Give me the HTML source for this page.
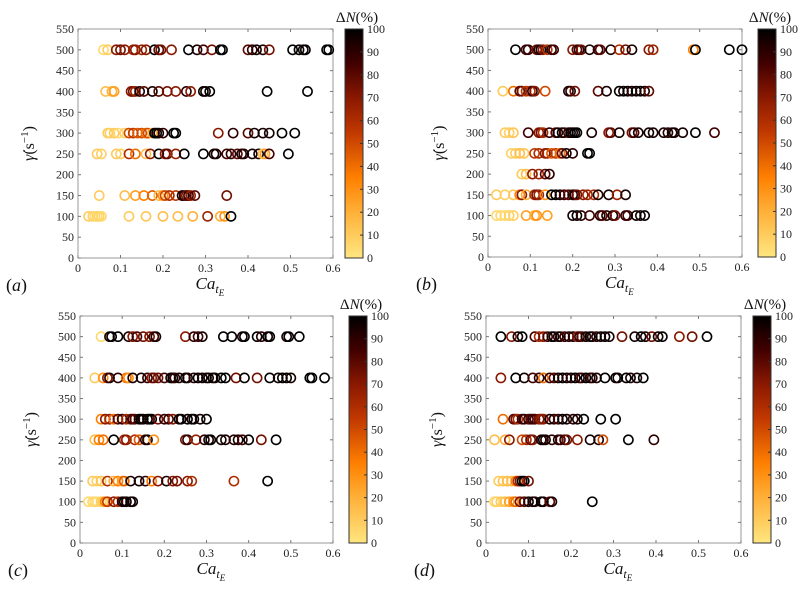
<!DOCTYPE html>
<html><head><meta charset="utf-8"><style>
html,body{margin:0;padding:0;background:#fff;}
svg, svg text{font-family:"Liberation Serif","DejaVu Serif","Times New Roman",serif;}
</style></head><body>
<svg id="fig" width="800" height="585" viewBox="0 0 800 585" xmlns="http://www.w3.org/2000/svg" font-family="Liberation Serif, DejaVu Serif, serif">
<defs>
<linearGradient id="cmap" x1="0" y1="1" x2="0" y2="0">
<stop offset="0" stop-color="#ffe680"/><stop offset="0.2" stop-color="#ffb038"/><stop offset="0.35" stop-color="#ff8000"/>
<stop offset="0.55" stop-color="#c03800"/><stop offset="0.7" stop-color="#8a1800"/><stop offset="0.85" stop-color="#420000"/><stop offset="1" stop-color="#000"/>
</linearGradient>
</defs>
</svg>
<script>
const xTicks=[0,0.1,0.2,0.3,0.4,0.5,0.6];
const yTicks=[0,50,100,150,200,250,300,350,400,450,500,550];
const cTicks=[0,10,20,30,40,50,60,70,80,90,100];
// Panel (a)
const aY=[500,500,500,500,500,500,500,500,500,500,500,500,500,500,500,500,500,500,500,500,500,500,500,500,500,500,500,500,500,500,
400,400,400,400,400,400,400,400,400,400,400,400,400,400,400,400,400,400,400,
300,300,300,300,300,300,300,300,300,300,300,300,300,300,300,300,300,300,300,300,300,300,300,300,300,300,
250,250,250,250,250,250,250,250,250,250,250,250,250,250,250,250,250,250,250,250,250,250,250,250,250,250,250,
150,150,150,150,150,150,150,150,150,150,150,150,150,150,150,150,150,
100,100,100,100,100,100,100,100,100,100,100,100,100,100,100];
const aX=[0.06,0.07,0.09,0.10,0.11,0.13,0.135,0.15,0.16,0.18,0.19,0.195,0.22,0.26,0.28,0.295,0.315,0.335,0.34,0.40,0.41,0.42,0.435,0.45,0.505,0.52,0.53,0.535,0.585,0.59,
0.065,0.08,0.085,0.125,0.13,0.135,0.145,0.155,0.175,0.19,0.21,0.23,0.255,0.265,0.295,0.30,0.31,0.445,0.54,
0.07,0.075,0.085,0.095,0.11,0.12,0.13,0.14,0.15,0.16,0.165,0.175,0.18,0.185,0.19,0.20,0.225,0.23,0.33,0.365,0.40,0.415,0.435,0.45,0.48,0.51,
0.045,0.055,0.09,0.10,0.12,0.135,0.16,0.17,0.19,0.205,0.21,0.23,0.25,0.295,0.32,0.325,0.35,0.36,0.375,0.385,0.39,0.41,0.425,0.435,0.44,0.45,0.495,
0.05,0.11,0.135,0.155,0.175,0.19,0.20,0.205,0.215,0.23,0.245,0.25,0.255,0.26,0.265,0.275,0.35,
0.025,0.035,0.04,0.045,0.05,0.055,0.12,0.16,0.20,0.235,0.27,0.305,0.335,0.345,0.36];
const aN=[5,10,70,75,70,65,70,65,70,100,80,75,70,100,95,85,75,100,100,80,90,95,95,75,100,100,95,100,100,100,
15,20,25,70,75,65,95,80,95,80,75,70,90,70,100,95,100,100,100,
10,8,10,5,8,50,55,45,50,40,50,20,100,100,95,90,100,100,70,90,80,95,95,95,100,100,
10,8,10,8,60,40,15,70,100,70,80,65,100,100,95,95,85,90,80,95,90,95,95,10,25,85,100,
10,15,25,35,45,15,30,50,60,55,95,90,75,85,65,80,75,
10,8,5,5,8,5,10,12,15,15,20,65,20,30,100];
// Panel (b)
const bY=[500,500,500,500,500,500,500,500,500,500,500,500,500,500,500,500,500,500,500,500,500,500,500,500,500,500,500,
400,400,400,400,400,400,400,400,400,400,400,400,400,400,400,400,400,400,400,400,400,400,
300,300,300,300,300,300,300,300,300,300,300,300,300,300,300,300,300,300,300,300,300,300,300,300,300,300,300,300,300,300,300,300,300,
250,250,250,250,250,250,250,250,250,250,250,250,250,250,250,250,
200,200,200,200,200,200,
150,150,150,150,150,150,150,150,150,150,150,150,150,150,150,150,150,150,150,150,150,150,150,150,150,
100,100,100,100,100,100,100,100,100,100,100,100,100,100,100,100,100,100,100,100,100,100,100];
const bX=[0.065,0.09,0.095,0.115,0.12,0.125,0.13,0.14,0.15,0.155,0.20,0.21,0.215,0.22,0.24,0.26,0.265,0.29,0.31,0.325,0.34,0.38,0.39,0.485,0.49,0.57,0.60,
0.035,0.06,0.075,0.08,0.09,0.10,0.105,0.11,0.135,0.19,0.195,0.205,0.26,0.28,0.31,0.32,0.33,0.34,0.35,0.36,0.37,0.38,
0.04,0.05,0.06,0.095,0.12,0.125,0.13,0.145,0.16,0.165,0.175,0.18,0.19,0.195,0.2,0.205,0.21,0.245,0.285,0.29,0.31,0.34,0.345,0.355,0.38,0.39,0.415,0.425,0.435,0.44,0.46,0.49,0.535,
0.055,0.065,0.075,0.085,0.11,0.12,0.135,0.14,0.15,0.16,0.17,0.175,0.185,0.20,0.235,0.24,
0.08,0.09,0.105,0.12,0.135,0.145,
0.02,0.04,0.06,0.075,0.08,0.09,0.11,0.115,0.12,0.135,0.15,0.16,0.17,0.18,0.19,0.2,0.205,0.21,0.225,0.235,0.25,0.26,0.285,0.305,0.325,
0.02,0.03,0.04,0.05,0.06,0.09,0.11,0.115,0.14,0.20,0.21,0.22,0.24,0.265,0.27,0.28,0.295,0.30,0.325,0.33,0.35,0.36,0.37];
const bN=[100,85,90,75,90,95,70,55,90,85,70,80,90,75,95,90,80,95,60,75,95,70,65,35,100,100,100,
10,40,80,75,55,60,90,70,50,95,90,75,80,95,100,95,100,90,100,95,95,80,
10,8,12,85,70,75,60,90,80,95,100,90,85,100,95,100,100,95,70,80,95,75,85,95,95,95,95,90,95,95,95,100,85,
8,10,15,12,55,60,70,65,45,55,40,75,95,90,100,100,
10,15,70,65,80,90,
10,8,12,35,70,20,60,75,65,30,100,100,95,85,80,90,95,75,70,65,60,95,95,65,95,
5,5,5,8,8,25,20,30,25,95,100,90,85,95,80,90,95,75,90,85,95,95,100];
// Panel (c)
const cY=[500,500,500,500,500,500,500,500,500,500,500,500,500,500,500,500,500,500,500,500,500,500,500,500,500,500,
400,400,400,400,400,400,400,400,400,400,400,400,400,400,400,400,400,400,400,400,400,400,400,400,400,400,400,400,400,400,400,400,400,400,400,400,400,400,400,400,
300,300,300,300,300,300,300,300,300,300,300,300,300,300,300,300,300,300,300,300,300,300,300,300,300,300,300,
250,250,250,250,250,250,250,250,250,250,250,250,250,250,250,250,250,250,250,250,250,250,250,250,250,
150,150,150,150,150,150,150,150,150,150,150,150,150,150,150,150,150,150,150,150,
100,100,100,100,100,100,100,100,100,100,100,100,100,100,100];
const cX=[0.05,0.07,0.075,0.09,0.115,0.125,0.135,0.15,0.165,0.175,0.18,0.25,0.27,0.28,0.29,0.34,0.36,0.385,0.39,0.42,0.43,0.445,0.45,0.49,0.495,0.52,
0.035,0.055,0.065,0.07,0.09,0.11,0.115,0.125,0.145,0.16,0.17,0.175,0.185,0.2,0.215,0.22,0.225,0.235,0.25,0.255,0.27,0.28,0.29,0.3,0.305,0.315,0.32,0.335,0.345,0.37,0.39,0.42,0.45,0.47,0.48,0.49,0.5,0.545,0.55,0.58,
0.05,0.06,0.07,0.08,0.09,0.1,0.11,0.12,0.125,0.13,0.14,0.145,0.15,0.16,0.165,0.17,0.185,0.2,0.21,0.22,0.235,0.24,0.255,0.265,0.27,0.285,0.3,
0.035,0.045,0.055,0.08,0.105,0.11,0.13,0.14,0.155,0.16,0.175,0.25,0.255,0.275,0.295,0.305,0.31,0.335,0.345,0.365,0.375,0.385,0.4,0.43,0.465,
0.03,0.04,0.05,0.065,0.08,0.09,0.1,0.105,0.12,0.14,0.155,0.17,0.185,0.205,0.22,0.23,0.255,0.265,0.365,0.445,
0.02,0.03,0.035,0.04,0.05,0.055,0.06,0.065,0.08,0.09,0.1,0.105,0.11,0.12,0.125];
const cN=[5,95,100,100,95,70,85,75,70,85,95,70,90,85,95,100,100,95,100,100,90,95,100,95,100,100,
10,30,70,95,90,40,30,95,95,90,70,80,75,85,95,100,90,95,100,95,90,100,95,100,95,100,95,100,100,75,100,75,100,95,100,100,95,100,100,100,
35,70,65,40,80,90,60,75,85,80,95,100,95,100,95,100,75,90,85,70,100,95,100,95,100,95,100,
15,35,40,100,65,70,60,45,90,95,30,75,90,65,90,95,100,95,95,90,95,85,100,75,100,
10,8,12,60,20,35,25,45,95,95,90,35,70,95,70,75,70,60,60,100,
5,5,5,5,8,10,35,55,70,60,90,100,95,100,95];
// Panel (d)
const dY=[500,500,500,500,500,500,500,500,500,500,500,500,500,500,500,500,500,500,500,500,500,500,500,500,500,500,500,500,500,500,500,500,500,500,500,
400,400,400,400,400,400,400,400,400,400,400,400,400,400,400,400,400,400,400,400,400,400,400,400,400,400,
300,300,300,300,300,300,300,300,300,300,300,300,300,300,300,300,300,300,300,300,300,300,300,
250,250,250,250,250,250,250,250,250,250,250,250,250,250,250,250,250,250,250,250,250,
150,150,150,150,150,150,150,150,150,150,
100,100,100,100,100,100,100,100,100,100,100,100,100,100,100,100,100];
const dX=[0.035,0.06,0.075,0.085,0.115,0.125,0.135,0.145,0.155,0.16,0.17,0.175,0.185,0.195,0.205,0.215,0.22,0.225,0.235,0.245,0.25,0.26,0.27,0.28,0.29,0.32,0.35,0.365,0.375,0.39,0.405,0.415,0.455,0.485,0.52,
0.035,0.07,0.09,0.11,0.125,0.135,0.15,0.16,0.17,0.18,0.19,0.2,0.21,0.22,0.225,0.235,0.245,0.25,0.26,0.28,0.305,0.31,0.33,0.34,0.355,0.37,
0.04,0.065,0.07,0.075,0.085,0.09,0.1,0.105,0.11,0.115,0.125,0.13,0.135,0.15,0.16,0.17,0.18,0.19,0.205,0.215,0.23,0.27,0.305,
0.02,0.045,0.055,0.085,0.095,0.105,0.11,0.13,0.135,0.14,0.155,0.17,0.175,0.185,0.19,0.215,0.245,0.265,0.275,0.335,0.395,
0.03,0.04,0.05,0.06,0.07,0.075,0.08,0.085,0.09,0.1,
0.02,0.025,0.035,0.045,0.055,0.065,0.07,0.08,0.09,0.1,0.11,0.115,0.13,0.135,0.15,0.155,0.25];
const dN=[100,70,95,100,85,60,70,85,95,100,90,95,85,90,95,70,90,80,95,100,95,90,95,100,95,75,95,100,95,75,95,100,70,75,100,
70,100,95,85,90,40,90,80,95,100,95,90,100,95,85,100,95,90,95,100,100,95,100,95,95,100,
40,80,75,60,85,90,85,80,90,85,75,65,70,95,90,85,100,95,90,95,100,100,100,
15,20,70,50,60,80,70,90,100,95,90,95,85,90,75,70,95,95,50,100,90,
10,12,15,15,35,60,70,100,100,75,
5,8,10,15,25,35,40,75,80,95,100,90,100,95,80,95,100];

const stops=[[0,[255,230,128]],[20,[255,176,56]],[35,[255,128,0]],[55,[192,56,0]],[70,[138,24,0]],[85,[66,0,0]],[100,[0,0,0]]];
function cmap(v){
  for(let i=1;i<stops.length;i++){
    if(v<=stops[i][0]){const a=stops[i-1],b=stops[i],t=(v-a[0])/(b[0]-a[0]);
      return 'rgb('+a[1].map((c,k)=>Math.round(c+(b[1][k]-c)*t)).join(',')+')';}
  }
  return 'rgb(0,0,0)';
}
const NS='http://www.w3.org/2000/svg';
const FF='Liberation Serif, DejaVu Serif, serif';
const svg=document.getElementById('fig');
function mk(tag,attrs,parent,text){const e=document.createElementNS(NS,tag);for(const k in attrs)e.setAttribute(k,attrs[k]);if(tag==='text')e.setAttribute('font-family',FF);if(text!==undefined)e.textContent=text;(parent||svg).appendChild(e);return e;}

function panel(id,g,X,Y,N){
  const grp=mk('g',{});
  
  
  const sx=v=>g.l+(v/0.6)*(g.r-g.l), sy=v=>g.b-(v/550)*(g.b-g.t);
  const frame=mk('rect',{x:g.l,y:g.t,width:g.r-g.l,height:g.b-g.t,fill:'none',stroke:'#999','stroke-width':1},grp);
  
  
  xTicks.forEach(t=>{const x=sx(t);
    mk('line',{x1:x,x2:x,y1:g.b,y2:g.b-3,stroke:'#777'},grp);mk('line',{x1:x,x2:x,y1:g.t,y2:g.t+3,stroke:'#777'},grp);
    const tl=mk('text',{x:x,y:g.b+14,'font-size':12,'text-anchor':'middle',fill:'#222'},grp,String(t));
    
    });
  yTicks.forEach(t=>{const y=sy(t);
    mk('line',{x1:g.l,x2:g.l+3,y1:y,y2:y,stroke:'#777'},grp);mk('line',{x1:g.r,x2:g.r-3,y1:y,y2:y,stroke:'#777'},grp);
    const tl=mk('text',{x:g.l-4,y:y+4,'font-size':12,'text-anchor':'end',fill:'#222'},grp,String(t));
    
    });
  for(let i=0;i<X.length;i++){
    const c=mk('circle',{cx:sx(X[i]),cy:sy(Y[i]),r:4.6,fill:'none',stroke:cmap(N[i]),'stroke-width':1.6},grp);
    
    
  }
  const yl=mk('text',{transform:'translate('+(g.l-44)+','+((g.t+g.b)/2)+') rotate(-90)','font-size':16,'text-anchor':'middle',fill:'#111'},grp);
  yl.innerHTML='<tspan font-style="italic">γ̇</tspan>(s<tspan dy="-6" font-size="11">−1</tspan><tspan dy="6">)</tspan>';
  
  
  const xl=mk('text',{x:(g.l+g.r)/2-10,y:g.b+31,'font-size':17,'font-style':'italic',fill:'#111'},grp);
  xl.innerHTML='Ca<tspan dy="4" font-size="12">t</tspan><tspan dy="3" font-size="9">E</tspan>';
  
  
  const pl=mk('text',{x:g.l-72,y:g.b+33,'font-size':18,fill:'#111'},grp);
  pl.innerHTML='(<tspan font-style="italic">'+id+'</tspan>)';
  
  
  const cb=mk('rect',{x:g.cl,y:g.t,width:18,height:g.b-g.t,fill:'url(#cmap)',stroke:'#333','stroke-width':1},grp);
  
  
  cTicks.forEach(t=>{const y=g.b-(t/100)*(g.b-g.t);
    mk('line',{x1:g.cl+18,x2:g.cl+15,y1:y,y2:y,stroke:'#333'},grp);
    const tl=mk('text',{x:g.cl+22,y:y+4,'font-size':12,fill:'#222'},grp,String(t));
    
    });
  const ct=mk('text',{x:g.cl+12,y:g.t-7,'font-size':15,'text-anchor':'middle',fill:'#111'},grp);
  ct.innerHTML='Δ<tspan font-style="italic">N</tspan>(%)';
  
  
}
panel('a',{l:78,r:333,t:29,b:258,cl:345},aX,aY,aN);
panel('b',{l:488,r:742,t:29,b:257,cl:758},bX,bY,bN);
panel('c',{l:80,r:333,t:316,b:543,cl:349},cX,cY,cN);
panel('d',{l:486,r:741,t:316,b:543,cl:753},dX,dY,dN);
</script>
</body></html>
